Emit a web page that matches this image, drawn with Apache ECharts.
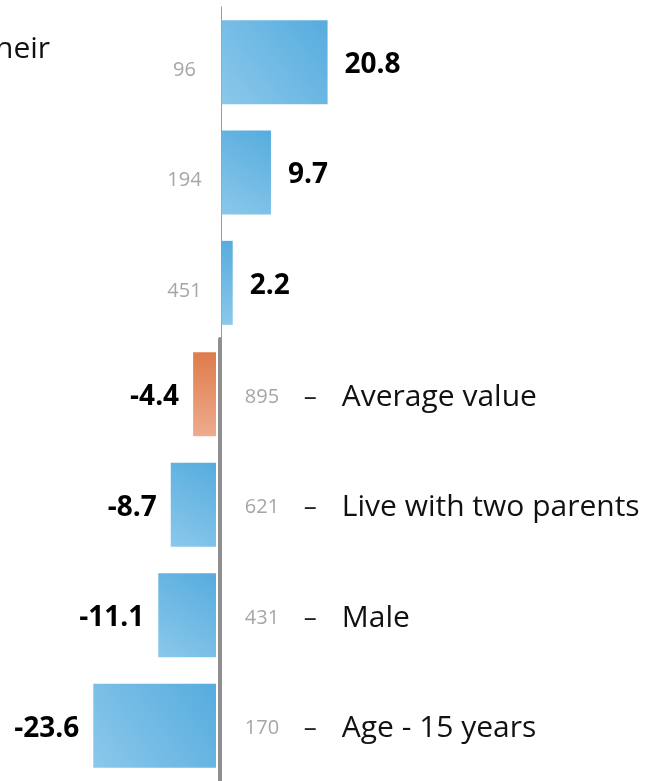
<!DOCTYPE html>
<html>
<head>
<meta charset="utf-8">
<script src="https://cdn.jsdelivr.net/npm/echarts@6/dist/echarts.min.js"></script>
<style>
  html, body { margin: 0; padding: 0; background: #fff; }
  #chart { width: 645px; height: 781px; }
</style>
</head>
<body>
<div id="chart"></div>
<script>
// cut-off label fragment visible at the top left
const cutLabel = 'heir';

// top block (positive) and bottom block (negative)
const topCounts = ['96', '194', '451'];
const topValues = [20.8, 9.7, 2.2];

const bottomNames = ['Average value', 'Live with two parents', 'Male', 'Age - 15 years'];
const bottomCounts = ['895', '621', '431', '170'];
const bottomValues = [-4.4, -8.7, -11.1, -23.6];

const highlightName = 'Average value';

const FONT = 'Open Sans';

function blue() {
    return new echarts.graphic.LinearGradient(1, 0, 0, 1, [
        { offset: 0, color: '#56acde' },
        { offset: 1, color: '#8bc8eb' }
    ]);
}
function orange() {
    return new echarts.graphic.LinearGradient(0, 0, 0, 1, [
        { offset: 0, color: '#de7c4b' },
        { offset: 1, color: '#eeab8e' }
    ]);
}

function barData(values, names) {
    return values.map((v, i) => {
        const pos = v >= 0;
        return {
            value: v,
            itemStyle: { color: (names && names[i] == highlightName) ? orange() : blue() },
            label: {
                position: pos ? 'right' : 'left',
                distance: pos ? 17 : 14
            }
        };
    });
}

const valueLabel = {
    show: true,
    fontFamily: FONT,
    fontWeight: 'bold',
    fontSize: 28,
    color: '#000',
    offset: [0, 3],
    formatter: p => p.value.toFixed(1)
};

// top: zero at x=221.5, 5.1 px/unit; bottom: zero at x=216, 5.2 px/unit
option = {
    animation: false,
    title: {
        text: cutLabel,
        left: -10,
        top: 29,
        textStyle: { fontFamily: FONT, fontSize: 30, fontWeight: 'normal', color: '#111' }
    },
    grid: [
        { left: 221.5, width: 408, top: 7, height: 331, outerBoundsMode: 'none', containLabel: false },
        { left: 8, width: 208, top: 339, height: 442, outerBoundsMode: 'none', containLabel: false }
    ],
    xAxis: [
        { gridIndex: 0, type: 'value', min: 0, max: 80, show: false },
        { gridIndex: 1, type: 'value', min: -40, max: 0, show: false }
    ],
    yAxis: [
        {
            gridIndex: 0,
            type: 'category',
            inverse: true,
            position: 'left',
            data: topCounts,
            axisLine: { onZero: false, lineStyle: { color: '#9a9a9a', width: 1 } },
            axisTick: { show: false },
            axisLabel: {
                margin: 37,
                align: 'center',
                verticalAlign: 'top',
                lineHeight: 16,
                color: '#a6a6a6',
                fontFamily: FONT,
                fontSize: 20
            }
        },
        {
            gridIndex: 1,
            type: 'category',
            inverse: true,
            position: 'right',
            offset: 3.8,
            data: bottomNames,
            axisLine: { onZero: false, lineStyle: { color: '#8f8f8f', width: 4 } },
            axisTick: { show: false },
            axisLabel: {
                margin: 25,
                align: 'left',
                verticalAlign: 'top',
                fontFamily: FONT,
                formatter: (name, i) => '{n|' + bottomCounts[i] + '}{d|–}{t|' + name + '}',
                rich: {
                    n: { width: 59, lineHeight: 6, color: '#a6a6a6', fontSize: 20, fontFamily: FONT, align: 'left' },
                    d: { width: 38, lineHeight: 6, color: '#222', fontSize: 26, fontFamily: FONT, align: 'left' },
                    t: { lineHeight: 6, color: '#111', fontSize: 30, fontFamily: FONT, align: 'left' }
                }
            }
        }
    ],
    series: [
        {
            type: 'bar',
            xAxisIndex: 0,
            yAxisIndex: 0,
            barWidth: 84,
            data: barData(topValues, null),
            label: valueLabel
        },
        {
            type: 'bar',
            xAxisIndex: 1,
            yAxisIndex: 1,
            barWidth: 84,
            data: barData(bottomValues, bottomNames),
            label: valueLabel
        }
    ]
};

chart = echarts.init(document.getElementById('chart'));
chart.setOption(option);
</script>
</body>
</html>
